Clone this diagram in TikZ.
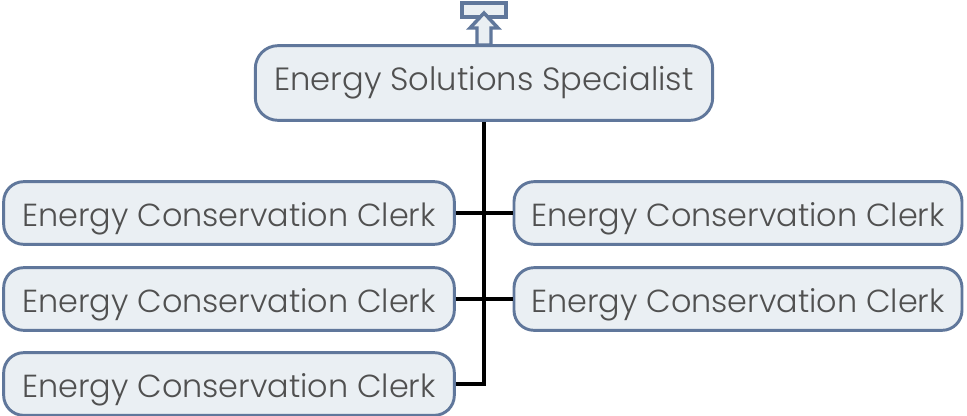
\documentclass[tikz,border=0pt]{standalone}
\usepackage{fontspec}
\setmainfont{Poppins}[UprightFont={* Light}]
\definecolor{boxblue}{RGB}{96,119,155}
\definecolor{boxfill}{RGB}{234,239,243}
\definecolor{textgray}{RGB}{80,80,80}
\usetikzlibrary{positioning}

\begin{document}
\begin{tikzpicture}[x=0.75pt, y=-0.75pt,
    role/.style={rectangle, draw=boxblue, fill=boxfill, line width=2.2pt,
                 rounded corners=15pt, inner sep=0pt, text=textgray,
                 text height=19.5pt, text depth=0pt,
                 font=\fontsize{23.9}{26}\selectfont},
    link/.style={black, line width=2.3pt}]
    \useasboundingbox (0,0) rectangle (967,415);

    % up arrow icon
    \draw[draw=boxblue, fill=boxfill, line width=3pt] (462,3) rectangle (506,17);
    \draw[draw=boxblue, fill=boxfill, line width=2.6pt]
        (484,13) -- (470,28) -- (477,28) -- (477,45) -- (491,45) -- (491,28) -- (498,28) -- cycle;

    \node[role, minimum width=343pt, minimum height=56pt, rounded corners=17pt,
          text height=12pt, text depth=1.5pt,
          font=\fontsize{24.1}{26}\selectfont] (top) at (484,83) {Energy Solutions Specialist};

    \node[role, minimum width=338pt, minimum height=47pt] (c1) at (229,213) {Energy Conservation Clerk};
    \node[role, minimum width=338pt, minimum height=47pt] (c2) at (229,299) {Energy Conservation Clerk};
    \node[role, minimum width=338pt, minimum height=47pt] (c3) at (229,384) {Energy Conservation Clerk};
    \node[role, minimum width=336pt, minimum height=47pt] (c4) at (738,213) {Energy Conservation Clerk};
    \node[role, minimum width=336pt, minimum height=47pt] (c5) at (738,299) {Energy Conservation Clerk};

    \coordinate (bus) at (484,384);
    \draw[link] (top.south) -- (bus) -- (c3.east);
    \draw[link] (c1.east) -- (c4.west);
    \draw[link] (c2.east) -- (c5.west);
\end{tikzpicture}
\end{document}
